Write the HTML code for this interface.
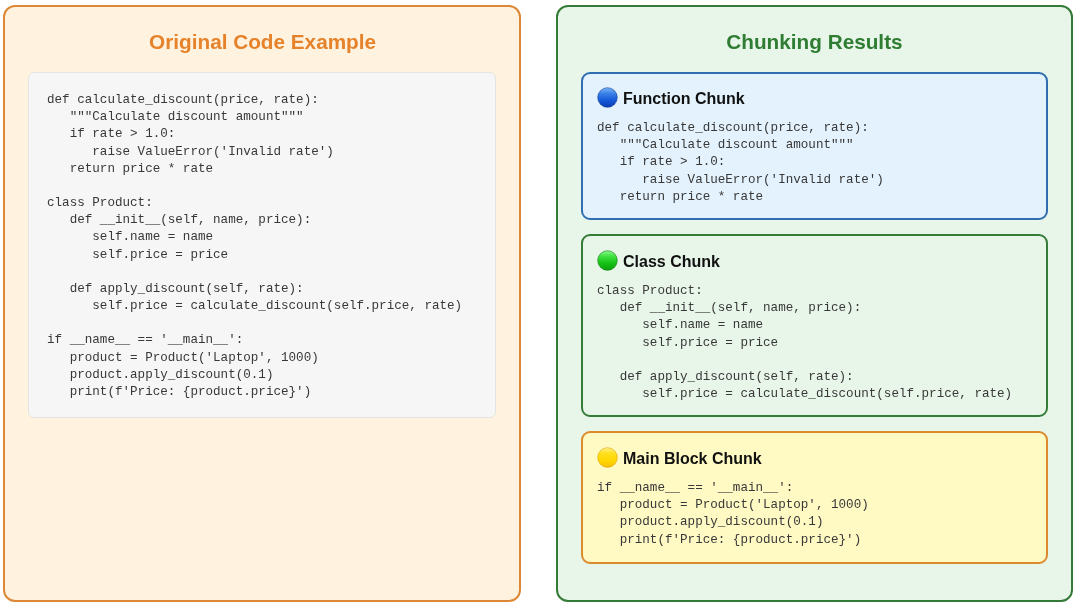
<!DOCTYPE html>
<html><head><meta charset="utf-8">
<style>
html,body{margin:0;padding:0;background:#ffffff;width:1080px;height:609px;overflow:hidden;position:relative;}
*{box-sizing:border-box;}
pre,.ptitle,.ctitle span{will-change:transform;}
.panel{position:absolute;border:2px solid;border-radius:12px;}
.orange{left:3.3px;top:5.35px;width:517.7px;height:596.65px;background:#fff3e0;border-color:#dc8836;}
.green{left:555.5px;top:5.35px;width:517.4px;height:596.65px;background:#e8f5e9;border-color:#347a37;}
.ptitle{position:absolute;left:0.5px;right:0;top:22.65px;text-align:center;font-family:"Liberation Sans",sans-serif;font-weight:bold;font-size:20.74px;line-height:23px;}
.orange .ptitle{color:#e6832a;}
.green .ptitle{color:#2e7d32;}
.codebox{position:absolute;left:23.2px;top:64.95px;width:467.2px;height:345.9px;background:#f6f6f6;border:1px solid #e6e4e2;border-radius:6px;}
pre{margin:0;font-family:"Liberation Mono",monospace;font-size:12.58px;line-height:17.17px;color:#383838;white-space:pre;}
.codebox pre{position:absolute;left:17.4px;top:18.55px;}
.chunk{position:absolute;left:23.5px;width:467px;border:2px solid;border-radius:9px;}
.blue{top:64.35px;height:148.4px;background:#e3f2fd;border-color:#2f6eb0;}
.gchunk{top:227.05px;height:183.1px;background:#e8f5e9;border-color:#347c38;}
.ychunk{top:424.15px;height:132.8px;background:#fff9c4;border-color:#dc8a2c;}
.ctitle{position:absolute;left:14px;top:14px;height:20px;font-family:"Liberation Sans",sans-serif;font-weight:bold;font-size:16px;line-height:20px;color:#111;white-space:nowrap;}
.ctitle svg{position:absolute;left:-0.2px;top:-0.6px;}
.ctitle span{position:absolute;left:26.2px;top:1.3px;}
.chunk pre{position:absolute;left:13.5px;}
</style></head><body>
<div class="panel orange">
  <div class="ptitle">Original Code Example</div>
  <div class="codebox"><pre>def calculate_discount(price, rate):
   """Calculate discount amount"""
   if rate > 1.0:
      raise ValueError('Invalid rate')
   return price * rate

class Product:
   def __init__(self, name, price):
      self.name = name
      self.price = price

   def apply_discount(self, rate):
      self.price = calculate_discount(self.price, rate)

if __name__ == '__main__':
   product = Product('Laptop', 1000)
   product.apply_discount(0.1)
   print(f'Price: {product.price}')</pre></div>
</div>
<div class="panel green">
  <div class="ptitle">Chunking Results</div>
  <div class="chunk blue">
    <div class="ctitle"><svg width="21" height="21" viewBox="0 0 21 21"><defs><linearGradient id="gb" x1="0" y1="0" x2="0" y2="1"><stop offset="0" stop-color="#7ab6f7"/><stop offset="0.3" stop-color="#3a80e8"/><stop offset="0.65" stop-color="#1458d6"/><stop offset="1" stop-color="#0a3cb8"/></linearGradient></defs><circle cx="10.5" cy="10.5" r="9.8" fill="url(#gb)" stroke="#173f8f" stroke-width="0.6"/></svg><span>Function Chunk</span></div>
    <pre style="top:46.8px">def calculate_discount(price, rate):
   """Calculate discount amount"""
   if rate > 1.0:
      raise ValueError('Invalid rate')
   return price * rate</pre>
  </div>
  <div class="chunk gchunk">
    <div class="ctitle"><svg width="21" height="21" viewBox="0 0 21 21"><defs><linearGradient id="gg" x1="0" y1="0" x2="0" y2="1"><stop offset="0" stop-color="#8af78a"/><stop offset="0.3" stop-color="#3ee03e"/><stop offset="0.65" stop-color="#14c014"/><stop offset="1" stop-color="#0aa20a"/></linearGradient></defs><circle cx="10.5" cy="10.5" r="9.8" fill="url(#gg)" stroke="#137a13" stroke-width="0.6"/></svg><span>Class Chunk</span></div>
    <pre style="top:46.8px">class Product:
   def __init__(self, name, price):
      self.name = name
      self.price = price

   def apply_discount(self, rate):
      self.price = calculate_discount(self.price, rate)</pre>
  </div>
  <div class="chunk ychunk">
    <div class="ctitle"><svg width="21" height="21" viewBox="0 0 21 21"><defs><linearGradient id="gy" x1="0" y1="0" x2="0" y2="1"><stop offset="0" stop-color="#fff08a"/><stop offset="0.3" stop-color="#ffe01a"/><stop offset="0.7" stop-color="#ffd500"/><stop offset="1" stop-color="#f8c000"/></linearGradient></defs><circle cx="10.5" cy="10.5" r="9.8" fill="url(#gy)" stroke="#d8a200" stroke-width="0.6"/></svg><span>Main Block Chunk</span></div>
    <pre style="top:46.8px">if __name__ == '__main__':
   product = Product('Laptop', 1000)
   product.apply_discount(0.1)
   print(f'Price: {product.price}')</pre>
  </div>
</div>
</body></html>
